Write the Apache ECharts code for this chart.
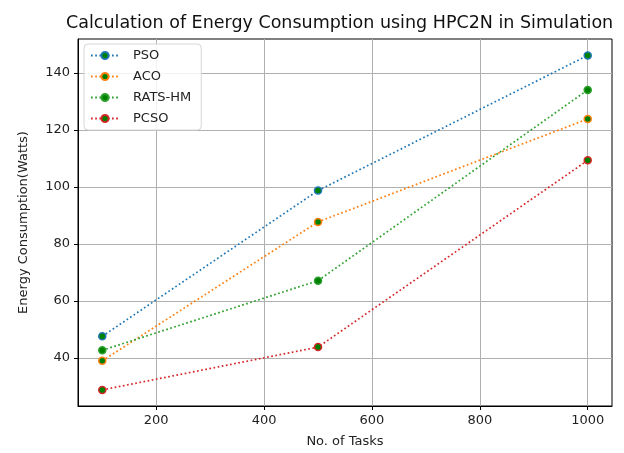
<!DOCTYPE html>
<html>
<head>
<meta charset="utf-8">
<script src="https://cdn.jsdelivr.net/npm/echarts@6/dist/echarts.min.js"></script>
<style>
  html, body { margin: 0; padding: 0; background: #fff; }
  #main { width: 624px; height: 453px; }
</style>
</head>
<body>
<div id="main"></div>
<script>
// data
var tasks = [100, 500, 1000];
var psoValues = [47.6, 98.7, 146.1];
var acoValues = [39.0, 87.7, 123.8];
var ratsValues = [42.7, 67.1, 134.0];
var pcsoValues = [28.8, 43.8, 109.3];
var seriesNames = ['PSO', 'ACO', 'RATS-HM', 'PCSO'];
var seriesColors = ['#1f77b4', '#ff7f0e', '#2ca02c', '#d62728'];
var xTicks = [200, 400, 600, 800, 1000];
var yTicks = [40, 60, 80, 100, 120, 140];

var font = 'DejaVu Sans';

function toPairs(values) {
  return tasks.map(function (t, i) { return [t, values[i]]; });
}

function makeSeries(name, values, color) {
  return {
    name: name,
    type: 'line',
    data: toPairs(values),
    symbol: 'circle',
    symbolSize: 7,
    showSymbol: true,
    itemStyle: { color: '#008000', borderColor: color, borderWidth: 1.5 },
    lineStyle: { color: color, width: 1.7, type: [1.7, 2.5] },
    emphasis: { disabled: true },
    z: 3
  };
}

var allValues = [psoValues, acoValues, ratsValues, pcsoValues];
var series = [];
for (var i = 0; i < seriesNames.length; i++) {
  series.push(makeSeries(seriesNames[i], allValues[i], seriesColors[i]));
}

var myChart = echarts.init(document.getElementById('main'), null, { renderer: 'canvas' });

var option = {
  animation: false,
  backgroundColor: '#fff',
  textStyle: { fontFamily: font },
  title: {
    text: 'Calculation of Energy Consumption using HPC2N in Simulation',
    left: 61,
    top: 9,
    textStyle: { fontFamily: font, fontSize: 17.5, fontWeight: 'normal', color: '#111' }
  },
  legend: {
    orient: 'vertical',
    left: 84,
    top: 44,
    padding: [5, 10, 5, 6],
    itemGap: 8,
    itemWidth: 28,
    itemHeight: 9,
    backgroundColor: 'rgba(255,255,255,0.85)',
    borderColor: '#d6d6d6',
    borderWidth: 1,
    borderRadius: 4,
    textStyle: { fontFamily: font, fontSize: 13, color: '#222', padding: [0, 0, 0, 9] },
    data: seriesNames
  },
  grid: {
    left: 78,
    right: 12,
    top: 39,
    bottom: 43,
    show: true,
    borderColor: '#000',
    borderWidth: 1,
    containLabel: false
  },
  xAxis: {
    type: 'value',
    min: 55,
    max: 1045,
    name: 'No. of Tasks',
    nameLocation: 'middle',
    nameGap: 29,
    nameTextStyle: { fontFamily: font, fontSize: 13, color: '#222' },
    axisLine: { show: true, lineStyle: { color: '#000', width: 1 } },
    axisTick: { show: true, length: 4, lineStyle: { color: '#000' }, customValues: xTicks },
    axisLabel: {
      fontFamily: font, fontSize: 13, color: '#222', margin: 8, customValues: xTicks,
      formatter: function (v) { return String(v); }
    },
    splitLine: { show: true, lineStyle: { color: '#b0b0b0', width: 1 } }
  },
  yAxis: {
    type: 'value',
    min: 23.15,
    max: 151.85,
    name: 'Energy Consumption(Watts)',
    nameLocation: 'middle',
    nameGap: 48,
    nameTextStyle: { fontFamily: font, fontSize: 13, color: '#222' },
    axisLine: { show: true, lineStyle: { color: '#000', width: 1 } },
    axisTick: { show: true, length: 4, lineStyle: { color: '#000' }, customValues: yTicks },
    axisLabel: {
      fontFamily: font, fontSize: 13, color: '#222', margin: 8, customValues: yTicks,
      formatter: function (v) { return String(v); }
    },
    splitLine: { show: true, lineStyle: { color: '#b0b0b0', width: 1 } }
  },
  series: series
};

myChart.setOption(option);
window.addEventListener('resize', myChart.resize);
</script>
</body>
</html>
